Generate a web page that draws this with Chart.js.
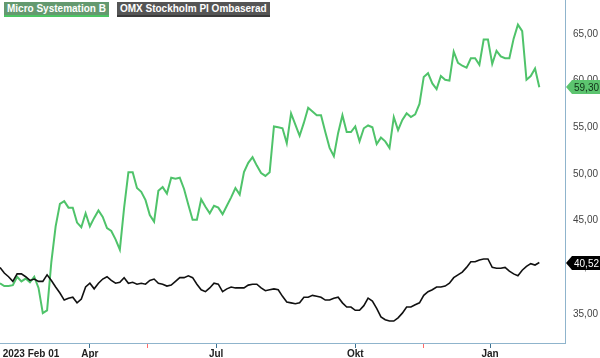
<!DOCTYPE html>
<html>
<head>
<meta charset="utf-8">
<script src="https://cdn.jsdelivr.net/npm/chart.js@4/dist/chart.umd.min.js"></script>
<style>
  html, body { margin: 0; padding: 0; background: #ffffff; }
  #wrap { position: relative; width: 600px; height: 358px; }
  #legend { position: absolute; left: 4px; top: 2px; display: flex; gap: 8px; font-family: "Liberation Sans", Arial, sans-serif; font-weight: bold; font-size: 10px; color: #ffffff; }
  .lg { padding: 0 3px; height: 13px; line-height: 13px; white-space: nowrap; }
</style>
</head>
<body>
<div id="wrap">
  <canvas id="c" width="600" height="358"></canvas>
  <div id="legend"></div>
</div>
<script>
// ---- data ----
const seriesNames = ['Micro Systemation B', 'OMX Stockholm PI Ombaserad'];
const sampleStep = 2; // trading days between samples, starting 2023-02-01
const microValues = [
  38.3, 38.0, 38.0, 38.1, 39.0, 38.5, 38.8, 38.4, 39.0, 37.8,
  35.1, 35.4, 40.6, 44.4, 46.8, 47.1, 46.4, 46.4, 44.8, 44.3,
  45.8, 44.4, 45.3, 46.1, 45.4, 44.2, 43.9, 43.0, 41.9, 46.4,
  50.2, 50.2, 48.5, 48.1, 47.2, 45.6, 44.9, 48.2, 48.6, 47.9,
  49.6, 49.5, 49.6, 48.4, 46.7, 45.1, 45.1, 47.3, 46.5, 45.8,
  46.6, 46.4, 45.7, 46.6, 47.5, 48.5, 47.8, 50.2, 51.2, 51.8,
  50.9, 50.1, 49.8, 50.2, 55.1, 55.0, 54.9, 53.3, 56.5, 55.3,
  54.1, 55.5, 57.1, 56.7, 56.3, 56.3, 54.5, 52.8, 51.9, 54.4,
  56.3, 54.5, 54.5, 55.1, 53.5, 54.9, 55.2, 55.0, 53.2, 53.9,
  53.5, 52.8, 56.1, 54.7, 55.8, 56.5, 56.1, 56.4, 57.5, 60.4,
  60.8, 59.7, 59.1, 60.5, 60.1, 60.0, 63.1, 61.9, 61.6, 61.4,
  62.4, 62.4, 61.7, 64.4, 64.4, 61.8, 63.2, 62.6, 62.4, 62.4,
  64.5, 66.0, 65.3, 60.1, 60.5, 61.3, 59.30
];
const omxValues = [
  40.0, 39.4, 39.0, 38.5, 39.3, 39.3, 39.0, 38.6, 38.75, 38.5,
  38.5, 39.2, 38.6, 37.9, 37.25, 36.5, 36.7, 36.8, 36.2, 36.6,
  37.9, 38.3, 37.7, 38.3, 38.75, 39.0, 38.6, 38.3, 38.4, 38.9,
  38.3, 38.4, 38.2, 38.3, 38.2, 38.6, 38.75, 38.3, 38.2, 38.0,
  38.1, 38.5, 38.9, 38.9, 39.1, 38.9, 38.2, 37.6, 37.4, 37.8,
  38.3, 38.2, 37.4, 37.7, 37.9, 37.8, 37.8, 37.8, 38.1, 38.2,
  38.2, 37.8, 37.5, 37.6, 37.7, 37.6, 36.9, 36.3, 36.2, 36.1,
  36.2, 36.8, 36.8, 37.0, 36.9, 36.8, 36.5, 36.5, 36.7, 36.8,
  36.2, 35.75, 35.75, 35.4, 35.4, 35.9, 36.7, 36.4, 35.6, 34.7,
  34.4, 34.25, 34.25, 34.6, 35.1, 35.75, 35.75, 36.0, 36.2, 37.0,
  37.4, 37.6, 37.9, 37.9, 38.0, 38.3, 38.9, 39.2, 39.5, 40.0,
  40.6, 40.6, 40.8, 40.9, 40.9, 40.0, 39.9, 39.9, 40.0, 39.6,
  39.3, 39.1, 39.7, 40.1, 40.4, 40.25, 40.52
];
const xTickDays = [14.5, 42, 69, 101, 166, 198, 229];
const xTickLabels = ['2023 Feb 01', 'Apr', '', 'Jul', 'Okt', '', 'Jan'];
const yTickValues = [35, 40, 45, 50, 55, 60, 65];

// ---- styles ----
const lineColors = ['#4fc36a', '#111111'];
const legendBg = ['#64996f', '#555555'];
const legendUnder = ['#4cc463', '#3a3a3a'];
const badgeBg = ['#5cc46f', '#000000'];
const badgeText = ['#103018', '#ffffff'];
const xTickMarkColors = ['rgba(0,0,0,0)', '#3d7190', '#ff6b6b', '#3d7190', '#3d7190', '#ff6b6b', '#3d7190'];
const axisColor = '#8fb4cc';

const fmt = v => v.toFixed(2).replace('.', ',');
const toPts = arr => arr.map((v, i) => ({ x: i * sampleStep, y: v }));

// legend
const lg = document.getElementById('legend');
seriesNames.forEach((n, i) => {
  const d = document.createElement('div');
  d.className = 'lg';
  d.textContent = n;
  d.style.background = legendBg[i];
  d.style.borderBottom = '2px solid ' + legendUnder[i];
  lg.appendChild(d);
});

const badgePlugin = {
  id: 'badges',
  afterDraw(chart) {
    const ctx = chart.ctx;
    const ys = chart.scales.y;
    const right = chart.chartArea.right;
    [0, 1].forEach(i => {
      const arr = i === 0 ? microValues : omxValues;
      const v = arr[arr.length - 1];
      const y = Math.round(ys.getPixelForValue(v));
      ctx.save();
      ctx.beginPath();
      ctx.moveTo(right + 1, y);
      ctx.lineTo(right + 7, y - 7);
      ctx.lineTo(600, y - 7);
      ctx.lineTo(600, y + 7);
      ctx.lineTo(right + 7, y + 7);
      ctx.closePath();
      ctx.fillStyle = badgeBg[i];
      ctx.fill();
      ctx.fillStyle = badgeText[i];
      ctx.font = '10px "Liberation Sans", Arial, sans-serif';
      ctx.textBaseline = 'middle';
      ctx.textAlign = 'left';
      ctx.fillText(fmt(v), right + 9, y + 1);
      ctx.restore();
    });
  }
};

new Chart(document.getElementById('c'), {
  type: 'line',
  data: {
    datasets: [
      { label: seriesNames[1], data: toPts(omxValues), borderColor: lineColors[1], borderWidth: 1.6, pointRadius: 0, tension: 0, fill: false },
      { label: seriesNames[0], data: toPts(microValues), borderColor: lineColors[0], borderWidth: 2, pointRadius: 0, tension: 0, fill: false }
    ]
  },
  options: {
    responsive: false,
    animation: false,
    devicePixelRatio: 1,
    layout: { padding: 0 },
    plugins: { legend: { display: false }, tooltip: { enabled: false } },
    scales: {
      x: {
        type: 'linear',
        min: 0,
        max: 264,
        afterBuildTicks: s => { s.ticks = xTickDays.map(v => ({ value: v })); },
        afterFit: s => { s.height = 15; s.paddingLeft = 0; s.paddingRight = 0; },
        grid: {
          drawOnChartArea: false,
          drawTicks: true,
          tickLength: 5,
          tickColor: c => xTickMarkColors[c.index] || axisColor,
          color: 'rgba(0,0,0,0)'
        },
        border: { display: true, color: axisColor, width: 1 },
        ticks: {
          autoSkip: false,
          maxRotation: 0,
          padding: 0,
          color: '#222222',
          font: { family: '"Liberation Sans", Arial, sans-serif', size: 10, weight: 'bold' },
          callback: (v, i) => xTickLabels[i]
        }
      },
      y: {
        position: 'right',
        min: 31.9,
        max: 68.64,
        afterBuildTicks: s => { s.ticks = yTickValues.map(v => ({ value: v })); },
        afterFit: s => { s.width = 35; s.paddingTop = 0; s.paddingBottom = 0; },
        grid: { drawOnChartArea: false, drawTicks: false },
        border: { display: true, color: axisColor, width: 1 },
        ticks: {
          padding: 8,
          color: '#444444',
          font: { family: '"Liberation Sans", Arial, sans-serif', size: 10 },
          callback: v => fmt(v)
        }
      }
    }
  },
  plugins: [badgePlugin]
});
</script>
</body>
</html>
